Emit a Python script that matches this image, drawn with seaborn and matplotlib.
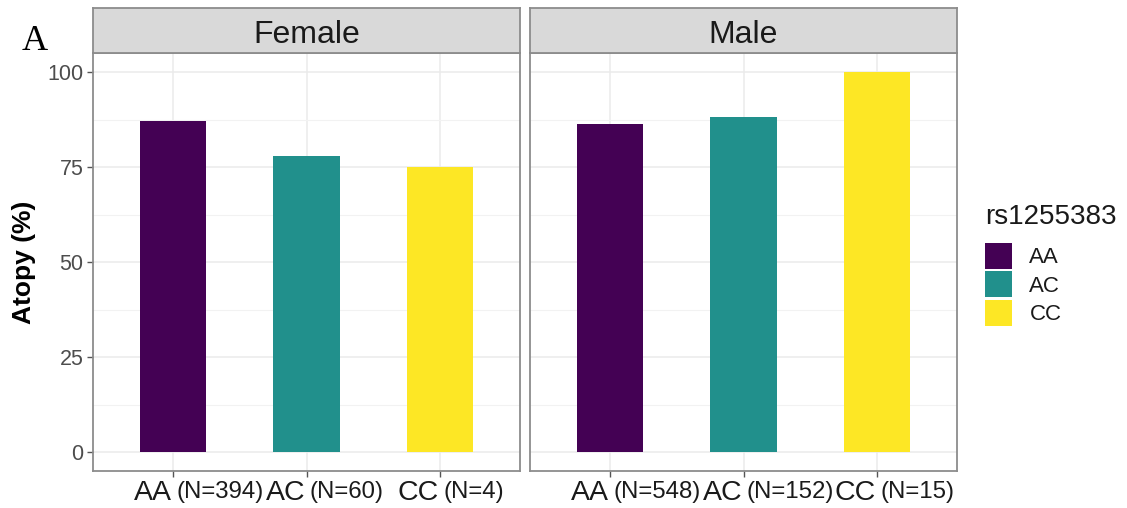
import matplotlib
matplotlib.use("Agg")
import matplotlib.pyplot as plt
import seaborn as sns
import pandas as pd
from matplotlib.patches import Patch

# ---- data ----
sexes = ["Female", "Male"]
genotypes = ["AA", "AC", "CC"]
female_pct = [87.0, 78.0, 75.0]
male_pct = [86.3, 88.2, 100.0]
female_n = ["(N=394)", "(N=60)", "(N=4)"]
male_n = ["(N=548)", "(N=152)", "(N=15)"]
y_ticks = [0, 25, 50, 75, 100]
colors = ["#440154", "#21908C", "#FDE725"]
legend_title = "rs1255383"
y_label = "Atopy (%)"

df = pd.DataFrame({
    "sex": ["Female"] * 3 + ["Male"] * 3,
    "genotype": genotypes * 2,
    "pct": female_pct + male_pct,
    "nlab": female_n + male_n,
})

sns.set_theme(style="white")
plt.rcParams["font.family"] = ["Liberation Sans", "DejaVu Sans"]

W, H = 1127, 508
fig = plt.figure(figsize=(W / 100, H / 100), dpi=100)

def fr(x0, y0, x1, y1):
    return [x0 / W, 1 - y1 / H, (x1 - x0) / W, (y1 - y0) / H]

panels = [(93, 520), (530, 957)]
palette = dict(zip(genotypes, colors))
axes = []
for i, sex in enumerate(sexes):
    x0, x1 = panels[i]
    ax = fig.add_axes(fr(x0, 53, x1, 471))
    sub = df[df["sex"] == sex]
    sns.barplot(data=sub, x="genotype", y="pct", hue="genotype", order=genotypes,
                hue_order=genotypes, palette=palette, width=0.5, legend=False,
                saturation=1, ax=ax, zorder=3, linewidth=0)
    ax.set_xlim(-0.6, 2.6)
    ax.set_ylim(-5, 105)
    ax.set_yticks(y_ticks)
    ax.set_yticks([12.5, 37.5, 62.5, 87.5], minor=True)
    ax.set_xticks(range(3))
    ax.set_xticklabels([""] * 3)
    ax.grid(True, which="major", color="#EBEBEB", linewidth=1.1, zorder=0)
    ax.grid(True, which="minor", axis="y", color="#F2F2F2", linewidth=0.8, zorder=0)
    ax.set_axisbelow(True)
    for s in ax.spines.values():
        s.set_color("#8C8C8C")
        s.set_linewidth(1.3)
        s.set_visible(True)
    ax.tick_params(axis="both", which="major", length=4.3, width=1, color="#555555",
                   labelsize=15.5, labelcolor="#4D4D4D", pad=2.5,
                   bottom=True, left=(i == 0))
    ax.tick_params(axis="both", which="minor", length=0)
    ax.set_xlabel("")
    ax.set_ylabel("")
    if i == 1:
        ax.set_yticklabels([])
    # x labels: genotype + N
    for j, g in enumerate(genotypes):
        ax.annotate(g, xy=(j, 0), xycoords=ax.get_xaxis_transform(),
                    xytext=(-0.5, -15.5), textcoords="offset points",
                    ha="right", va="center", fontsize=20.5, color="#1A1A1A")
        ax.annotate(sub["nlab"].iloc[j], xy=(j, 0), xycoords=ax.get_xaxis_transform(),
                    xytext=(2.5, -15), textcoords="offset points",
                    ha="left", va="center", fontsize=17.3, color="#1A1A1A")
    # strip
    sax = fig.add_axes(fr(x0, 8, x1, 53))
    sax.set_facecolor("#D9D9D9")
    sax.set_xticks([])
    sax.set_yticks([])
    for s in sax.spines.values():
        s.set_color("#8C8C8C")
        s.set_linewidth(1.3)
    sax.text(0.5, 10 / 45, sex, ha="center", va="baseline", fontsize=23, color="#1A1A1A",
             transform=sax.transAxes)
    axes.append(ax)

fig.text(24 / W, 1 - 262 / H, y_label, rotation=90, ha="center", va="center",
         fontsize=19, fontweight="bold", color="black")

fig.text(22 / W, 1 - 50 / H, "A", family="Liberation Serif", fontsize=26,
         ha="left", va="baseline", color="black")

fig.text(985 / W, 1 - 224 / H, legend_title, fontsize=20, color="#1A1A1A",
         ha="left", va="baseline")

handles = [Patch(facecolor=c, edgecolor="none") for c in colors]
leg = fig.legend(handles, genotypes, loc="upper left",
                 bbox_to_anchor=(985 / W, 1 - 243 / H), frameon=False,
                 fontsize=16, handlelength=1.2, handleheight=1.42,
                 labelspacing=0.11, handletextpad=0.8, borderaxespad=0,
                 borderpad=0)
for t in leg.get_texts():
    t.set_color("#1A1A1A")

fig.savefig("out.png", dpi=100)
